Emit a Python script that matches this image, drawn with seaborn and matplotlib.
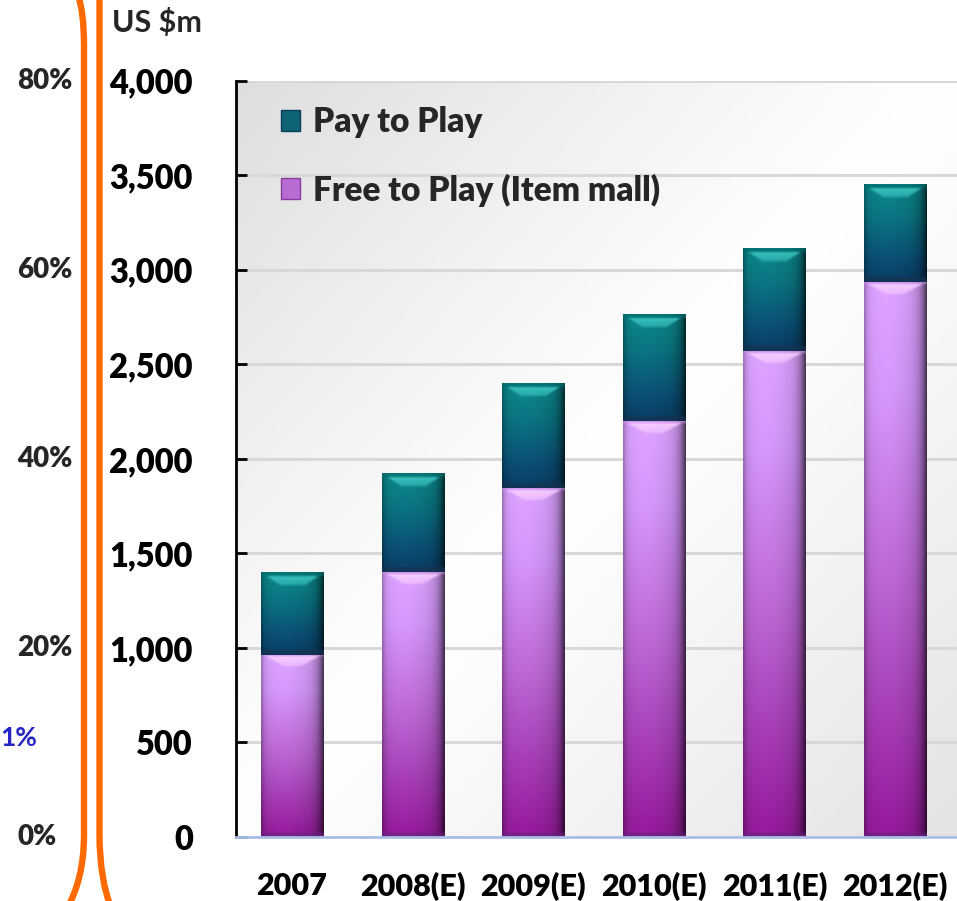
import numpy as np
import pandas as pd
import matplotlib
matplotlib.use("Agg")
import matplotlib.pyplot as plt
import matplotlib.transforms as mtransforms
from matplotlib.path import Path
from matplotlib.patches import PathPatch, Patch
from matplotlib.colors import to_rgb
import seaborn as sns

# ---- data -------------------------------------------------------------
years = ["2007", "2008(E)", "2009(E)", "2010(E)", "2011(E)", "2012(E)"]
free_to_play = [965, 1400, 1845, 2200, 2570, 2935]   # US $m, item-mall revenue
pay_to_play = [435, 520, 555, 565, 540, 515]         # US $m, subscription revenue
value_ticks = [0, 500, 1000, 1500, 2000, 2500, 3000, 3500, 4000]
share_ticks = [0, 20, 40, 60, 80]                    # % scale on the far left
share_note = 10.5                                    # highlighted share value
share_note_text = "1%"

series_names = ["Pay to Play", "Free to Play (Item mall)"]

df = pd.DataFrame({"year": years, "free": free_to_play, "pay": pay_to_play})
df["total"] = df["free"] + df["pay"]

# ---- styling ----------------------------------------------------------
sns.set_theme(style="white")
plt.rcParams["font.family"] = ["Lato", "DejaVu Sans"]
HEAVY = "heavy"

W, H = 957, 901
fig = plt.figure(figsize=(W / 100, H / 100), dpi=100, facecolor="white")
ax = fig.add_axes([236 / W, 64 / H, 721 / W, 756.3 / H])

teal = "#0d6672"
purple = "#b86ad4"

sns.barplot(data=df, x="year", y="total", color=teal, width=0.515,
            saturation=1, ax=ax)
sns.barplot(data=df, x="year", y="free", color=purple, width=0.515,
            saturation=1, ax=ax)

ax.set_xlim(-0.464, 5.514)
ax.set_ylim(0, 4000)


def lerp_stops(t, stops, colors):
    cols = np.array([to_rgb(c) for c in colors])
    return np.stack([np.interp(t, stops, cols[:, k]) for k in range(3)], axis=-1)


def bar_image(h, w, kind):
    """RGB array with a bevelled, shaded look for one bar segment."""
    v = np.linspace(0, 1, h)
    r = np.arange(h)[:, None]
    c = np.arange(w)[None, :]
    dl = c.astype(float)
    dr = (w - 1 - c).astype(float)
    db = (h - 1 - r).astype(float)
    dt = r.astype(float)
    if kind == "teal":
        base = lerp_stops(v, [0, 0.35, 0.75, 1.0],
                          ["#0b8486", "#0a6f7c", "#0a4d70", "#0a3a60"])
        hi = np.array(to_rgb("#3cc6c4"))
        top_band = np.array(to_rgb("#006a6a"))
        bot_band = np.array(to_rgb("#17324e"))
        t0, t1, a, k = 4, 13, 6.0, 1.5
        bb = 5
    else:
        base = lerp_stops(v, [0, 0.2, 0.55, 1.0],
                          ["#d69cf8", "#cc90f2", "#b360cb", "#8e1894"])
        hi = np.array(to_rgb("#f8d0ff"))
        top_band = np.array(to_rgb("#c48ee6"))
        bot_band = np.array(to_rgb("#66227e"))
        t0, t1, a, k = 2, 12, 5.0, 1.8
        bb = 4
    img = np.repeat(base[:, None, :], w, axis=1)
    # side shading: soft left edge falloff, strong dark right edge
    f = 1 - 0.30 * np.exp(-dl / 2.5) - 0.68 * np.exp(-dr / 6.0)
    f = f + 0.05 * np.exp(-((c - 0.35 * w) / (0.25 * w)) ** 2)
    img = img * np.clip(f, 0, 1.1)[..., None]
    # top band and bevel highlight
    band = (dt < t0)
    img[band[:, 0]] = img[band[:, 0]] * 0.4 + top_band * 0.6
    inset = a + k * (dt - t0)
    face = (dt >= t0) & (dt < t1) & (dl >= inset) & (dr >= inset)
    wgt = 0.9 * (1 - 0.45 * (dt - t0) / (t1 - t0))
    img = np.where(face[..., None], img * (1 - wgt[..., None]) + hi * wgt[..., None], img)
    # darker bottom rim
    rim = (db < bb) & np.ones_like(face)
    img = np.where(rim[..., None], img * 0.35 + bot_band * 0.65, img)
    # soften edges slightly
    pad = np.pad(img, ((1, 1), (1, 1), (0, 0)), mode="edge")
    img = sum(pad[i:i + h, j:j + w] for i in range(3) for j in range(3)) / 9.0
    return np.clip(img, 0, 1)


bars = list(ax.patches)
n = len(years)
teal_bars, purple_bars = bars[:n], bars[n:2 * n]

for tb, pb in zip(teal_bars, purple_bars):
    x0, wdt = pb.get_x(), pb.get_width()
    free_top = pb.get_height()
    total_top = tb.get_height()
    for y0, y1, kind in [(0, free_top, "purple"), (free_top, total_top, "teal")]:
        p0 = ax.transData.transform((x0, y0))
        p1 = ax.transData.transform((x0 + wdt, y1))
        wpx = max(int(round(p1[0] - p0[0])), 2)
        hpx = max(int(round(p1[1] - p0[1])), 2)
        ax.imshow(bar_image(hpx, wpx, kind), extent=(x0, x0 + wdt, y0, y1),
                  aspect="auto", interpolation="bilinear", zorder=3)
    tb.set_visible(False)
    pb.set_visible(False)

# plot-area background: soft diagonal grey-white-grey wash
gx, gy = np.meshgrid(np.linspace(0, 1, 300), np.linspace(1, 0, 300))
d = gx - gy
shade = np.where(d < 0, 1 - 0.13 * np.clip(-d, 0, 1) ** 1.1,
                 1 - 0.11 * np.clip(d, 0, 1) ** 1.1)
ax.imshow(np.dstack([shade] * 3), extent=(0, 1, 0, 1), transform=ax.transAxes,
          aspect="auto", zorder=0, interpolation="bilinear")

ax.set_xlim(-0.464, 5.514)
ax.set_ylim(0, 4000)

# grid, spines, ticks
ax.set_yticks(value_ticks, labels=[f"{v:,}" for v in value_ticks])
ax.yaxis.grid(True, color="#d8d8d8", lw=2.2)
ax.xaxis.grid(False)
ax.set_axisbelow(False)
for gl in ax.get_ygridlines():
    gl.set_zorder(1)
for s in ["top", "right"]:
    ax.spines[s].set_visible(False)
ax.spines["left"].set_color("black")
ax.spines["left"].set_linewidth(2)
ax.spines["bottom"].set_color("#a9bfe6")
ax.spines["bottom"].set_linewidth(2)
ax.spines["left"].set_zorder(5)
ax.spines["bottom"].set_zorder(5)

ax.tick_params(axis="y", direction="in", length=8, width=2, color="black",
               pad=31, labelsize=23.5, left=True)
ax.tick_params(axis="x", length=0, pad=25, labelsize=22)
for lab in ax.get_yticklabels() + ax.get_xticklabels():
    lab.set_fontweight(HEAVY)
    lab.set_color("black")
ax.set_xlabel("")
ax.set_ylabel("")

# legend
handles = [Patch(facecolor="#0e6474", edgecolor="#0a3d5c", lw=1),
           Patch(facecolor="#b66cd2", edgecolor="#8a3a9a", lw=1)]
ax.legend(handles, series_names, loc="upper left", bbox_to_anchor=(0.063, 0.966),
          frameon=False, prop={"size": 24, "weight": HEAVY},
          handlelength=0.55, handleheight=0.6, handletextpad=0.4,
          labelspacing=1.05, borderpad=0, borderaxespad=0)

# unit label
fig.text(112 / W, 1 - 32 / H, "US $m", fontsize=22, fontweight="bold",
         ha="left", va="baseline")

# share scale on the far left
blend = mtransforms.blended_transform_factory(fig.transFigure, ax.transData)
for p in share_ticks:
    fig.text(17 / W, p / 80 * 4000, f"{p}%", transform=blend, fontsize=20,
             fontweight=HEAVY, ha="left", va="center")
fig.text(37 / W, share_note / 80 * 4000, share_note_text, transform=blend,
         fontsize=19, fontweight="bold", color="#2424c8", ha="right", va="center")

# orange brackets
def px(x, y):
    return (x / W, 1 - y / H)

left_br = Path([px(78, -5), px(84, 12), px(84, 45), px(84, 835), px(84, 880), px(66, 910)],
               [Path.MOVETO, Path.CURVE3, Path.CURVE3, Path.LINETO, Path.CURVE3, Path.CURVE3])
right_br = Path([px(99.5, -5), px(99.5, 835), px(99.5, 880), px(112, 910)],
                [Path.MOVETO, Path.LINETO, Path.CURVE3, Path.CURVE3])
for pth in (left_br, right_br):
    fig.add_artist(PathPatch(pth, transform=fig.transFigure, fill=False,
                             edgecolor="#ff6a00", lw=4.6, capstyle="butt"))

fig.savefig("out.png", dpi=100, facecolor="white")
